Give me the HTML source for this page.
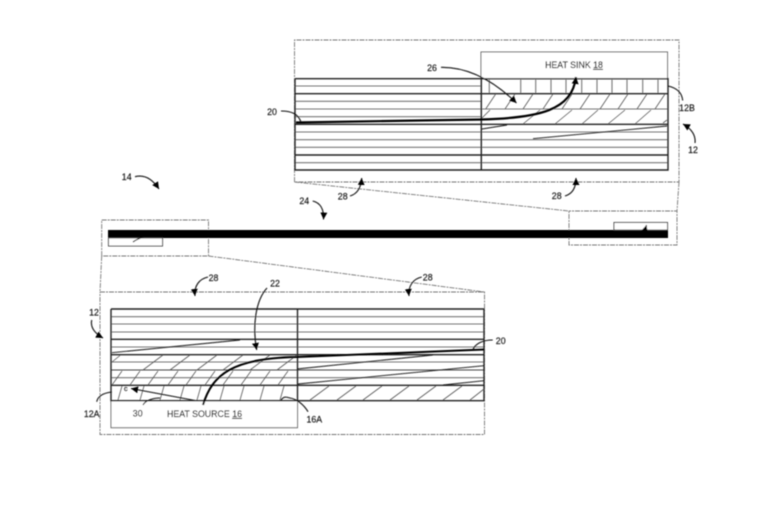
<!DOCTYPE html>
<html>
<head>
<meta charset="utf-8">
<style>
html,body{margin:0;padding:0;background:#fff;width:783px;height:508px;overflow:hidden}
svg{display:block}
text{font-family:"Liberation Sans",sans-serif;font-size:8.8px;fill:#111;stroke:#111;stroke-width:.15}
.d{stroke:#222;stroke-width:1.4;fill:none}
.g{stroke:#777;stroke-width:1.100;fill:none}
.h{stroke:#555;stroke-width:.8;fill:none}
.ds{stroke:#777;stroke-width:.9;stroke-dasharray:5 1 2 1;fill:none}
.l{stroke:#111;stroke-width:1.100;fill:none}
</style>
</head>
<body>
<svg width="783" height="508" viewBox="0 0 783 508" xmlns="http://www.w3.org/2000/svg">
<defs>
<marker id="a" markerUnits="userSpaceOnUse" markerWidth="9" markerHeight="9" refX="7" refY="3.500" orient="auto"><path d="M0 0L7 3.500L0 7z" fill="#000"/></marker>
<filter id="b"><feGaussianBlur stdDeviation="0.4"/></filter>
</defs>
<g filter="url(#b)">
<!-- dashed frames -->
<path class="ds" d="M294.500 182V40H679V182H294.500"/>
<path class="ds" d="M294.500 182L569 211V245H677V211H569M679 182L677 211"/>
<path class="ds" d="M101.700 256V220H208.500V256H101.700M208.500 256L484.500 292M101.700 256L100 292"/>
<path class="ds" d="M100 292H484.500V434.500H100V292"/>

<!-- middle bar -->
<rect x="108" y="230" width="560" height="8" fill="#000"/>
<rect x="108.500" y="238" width="54" height="8" fill="#fff" stroke="#444" stroke-width="1"/>
<rect x="614" y="222.500" width="53.500" height="7.500" fill="#fff" stroke="#444" stroke-width="1"/>
<path class="l" d="M133 242C137 239 140 238 144 237"/>
<path class="l" d="M645 230L646.500 225" marker-end="url(#a)"/>

<!-- top stack -->
<rect x="481" y="52" width="186.500" height="26.500" fill="#fff" stroke="#666" stroke-width="1"/>
<path class="g" d="M295 86H481M295 101.300H481M295 109H668M295 116.700H481M295 132H668M295 139.700H668M295 147.300H668M295 162.700H668"/>
<path class="d" d="M295 78.700H668V170H295V78.700M295 93.700H668M295 124.300H668M295 155H668M481.300 78.700V170M668 78.700V170"/>
<path class="g" d="M489.300 79V93M520.700 79V93M535.700 79V93M551 79V93M566 79V93M581.700 79V93M597 79V93M612 79V93M627 79V93M642.700 79V93M658 79V93"/>
<path class="h" d="M485.700 109L495.700 94M505 109L515 94M523 109L533 94M543 109L553 94M562 109L572 94M580 109L590 94M600 109L610 94M618 109L628 94M637 109L647 94M655 109L665 94"/>
<path class="h" d="M482 118L490 110M523 124L540 110M555 124L572 110M582 124L598 110M608 124L625 110M635 124L651 110M663 123L667 120"/>
<path class="l" d="M482 129L507 125M533 138.700L667 126" style="stroke-width:.9"/>
<path d="M296 122.500L481 119.500C540 118 572 110 576 77" fill="none" stroke="#000" stroke-width="2.200" marker-end="url(#a)"/>

<!-- bottom stack -->
<rect x="111" y="400.700" width="186.500" height="27" fill="#fff" stroke="#666" stroke-width="1"/>
<path class="g" d="M111 316.700H484M111 324H484M111 332H484M111 347H484M111 362H484M111 377.700H484"/>
<path class="g" style="stroke:#444" d="M111 370H484"/>
<path class="d" d="M111 309H484V400.700H111V309M111 339.300H484M111 354.700H484M111 385.300H484M297.500 309V400.700"/>
<path class="l" d="M112 352.700L240 340M297 369L433 355M298 384L484 365.700M443 385L484 380.700" style="stroke-width:.9"/>
<path class="h" d="M112 362L120 355.500M143 370L163 355M170 370L190 355M197 370L217 355M223 370L243 355M250 370L270 355M277 370L297 355"/>
<path class="h" d="M112 385L122 371M130 385L140 371M148 385L158 371M168 385L178 371M186 385L196 371M205 385L215 371M223 385L233 371M241 385L251 371M260 385L270 371M278 385L288 371"/>
<path class="h" d="M118 400L122 386M140 400L144 386M160 400L164 386M180 400L184 386M197 400L201 386M220 400L224 386M240 400L244 386M260 400L264 386M280 400L284 386"/>
<path class="h" d="M310 400L329 386M337 400L356 386M363 400L382 386M390 400L409 386M417 400L436 386M443 400L462 386M470 400L484 389"/>
<path d="M203 405C212 375 232 358 297 357L484 349.500" fill="none" stroke="#000" stroke-width="2"/>
<path class="l" d="M195 400.500L131 388.500" marker-end="url(#a)"/>
<text x="124" y="391" style="font-size:7px">c</text>

<!-- leaders -->
<path class="l" d="M441 67.300C470 67 495 82 516.500 103" marker-end="url(#a)"/>
<path class="l" d="M281 111C292 111 298 114 301 122"/>
<path class="l" d="M668 86C677 88 682 93 682.700 100.500"/>
<path class="l" d="M695 143C696 134 690 128 683 124" marker-end="url(#a)"/>
<path class="l" d="M565 196C572 194 576 188 576 178" marker-end="url(#a)"/>
<path class="l" d="M350 196C357 194 361 188 361.700 178" marker-end="url(#a)"/>
<path class="l" d="M135 176.700C145 174 153 180 159 189" marker-end="url(#a)"/>
<path class="l" d="M312.700 201C321 203 324 210 323.500 219.500" marker-end="url(#a)"/>
<path class="l" d="M208 277C199 279 194 286 195 296" marker-end="url(#a)"/>
<path class="l" d="M267 288C256 300 252 325 256.700 350" marker-end="url(#a)"/>
<path class="l" d="M91.700 320C90 328 96 334 103 338" marker-end="url(#a)"/>
<path class="l" d="M96.700 401.700C98 396 103 393 111.700 392"/>
<path class="l" d="M143 405C145 401 152 398 160 398"/>
<path class="l" d="M308 411.700C304 405 297 399 290 398C286 397 284 396 281 400"/>
<path class="l" d="M421.700 277C413 279 408 286 409 296" marker-end="url(#a)"/>
<path class="l" d="M492.700 340C482 340 475 344 472.700 350"/>

<!-- labels -->
<text x="574" y="68" text-anchor="middle">HEAT SINK <tspan text-decoration="underline">18</tspan></text>
<text x="204.500" y="417" text-anchor="middle">HEAT SOURCE <tspan text-decoration="underline">16</tspan></text>
<text x="432" y="71" text-anchor="middle">26</text>
<text x="272" y="115" text-anchor="middle">20</text>
<text x="687" y="111" text-anchor="middle">12B</text>
<text x="693" y="153" text-anchor="middle">12</text>
<text x="556.700" y="199" text-anchor="middle">28</text>
<text x="342.700" y="199.500" text-anchor="middle">28</text>
<text x="126.700" y="180" text-anchor="middle">14</text>
<text x="304.300" y="204" text-anchor="middle">24</text>
<text x="213.500" y="281" text-anchor="middle">28</text>
<text x="275" y="286.500" text-anchor="middle">22</text>
<text x="94" y="315.500" text-anchor="middle">12</text>
<text x="91.700" y="417" text-anchor="middle">12A</text>
<text x="137.700" y="416.500" text-anchor="middle">30</text>
<text x="314.300" y="422.500" text-anchor="middle">16A</text>
<text x="427.700" y="280.500" text-anchor="middle">28</text>
<text x="500.700" y="344" text-anchor="middle">20</text>
</g>
</svg>
</body>
</html>
